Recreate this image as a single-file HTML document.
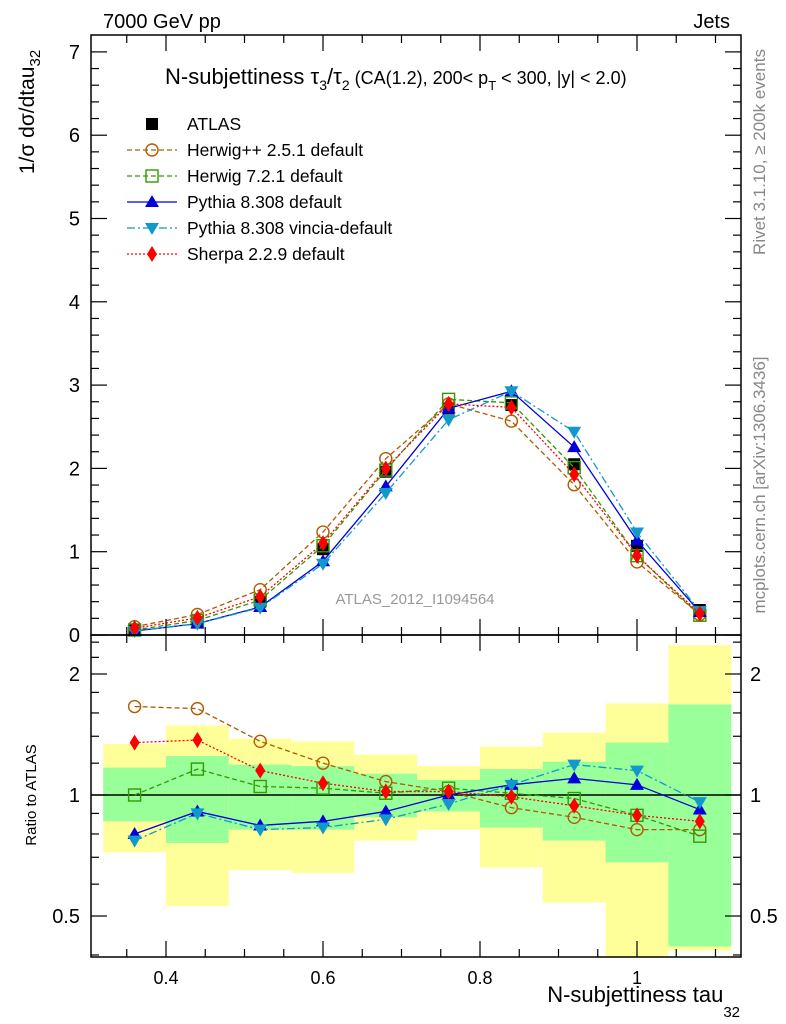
<!DOCTYPE html>
<html><head><meta charset="utf-8"><style>
html,body{margin:0;padding:0;background:#fff;}
svg{display:block;font-family:"Liberation Sans",sans-serif;}
</style></head><body>
<svg id="c" width="786" height="1024" viewBox="0 0 786 1024" xmlns="http://www.w3.org/2000/svg">
<text x="103" y="28" font-size="20">7000 GeV pp</text>
<text x="730" y="28" font-size="20" text-anchor="end">Jets</text>
<text transform="translate(34,112) rotate(-90)" font-size="21" text-anchor="middle">1/σ dσ/dtau<tspan font-size="15" dy="6">32</tspan></text>
<text transform="translate(36,795) rotate(-90)" font-size="15" text-anchor="middle">Ratio to ATLAS</text>
<text transform="translate(765,152) rotate(-90)" font-size="17" fill="#888" text-anchor="middle">Rivet 3.1.10, ≥ 200k events</text>
<text transform="translate(765,485) rotate(-90)" font-size="17" fill="#888" text-anchor="middle">mcplots.cern.ch [arXiv:1306.3436]</text>
<text x="165" y="84" font-size="22">N-subjettiness τ<tspan font-size="14" dy="6">3</tspan><tspan dy="-6">/τ</tspan><tspan font-size="14" dy="6">2</tspan><tspan font-size="18" dy="-6"> (CA(1.2), 200&lt; p</tspan><tspan font-size="13" dy="6">T</tspan><tspan font-size="18" dy="-6"> &lt; 300, |y| &lt; 2.0)</tspan></text>
<text x="415" y="604" font-size="15" fill="#999" text-anchor="middle">ATLAS_2012_I1094564</text>
<text x="740" y="1002" font-size="22" text-anchor="end">N-subjettiness tau<tspan font-size="15" dy="15">32</tspan></text>
<g id="ratio"></g><g id="main"></g><g id="axes"></g><g id="legend"></g>
</svg>
<script>
const binCenters=[0.36,0.44,0.52,0.60,0.68,0.76,0.84,0.92,1.00,1.08];
const atlas=[0.06,0.15,0.40,1.03,1.96,2.72,2.76,2.05,1.07,0.30];
const herwigppRatio=[1.66,1.64,1.36,1.20,1.08,1.02,0.93,0.88,0.82,0.82];
const herwig7Ratio=[1.00,1.16,1.05,1.04,1.01,1.04,1.01,0.98,0.89,0.79];
const pythiaRatio=[0.80,0.91,0.84,0.86,0.91,1.00,1.06,1.10,1.06,0.92];
const vinciaRatio=[0.77,0.90,0.82,0.83,0.87,0.95,1.06,1.19,1.15,0.96];
const sherpaRatio=[1.35,1.37,1.15,1.07,1.02,1.02,0.99,0.94,0.89,0.86];
const yellowHi=[1.34,1.49,1.38,1.36,1.26,1.18,1.32,1.43,1.69,2.36];
const yellowLo=[0.72,0.53,0.65,0.64,0.77,0.82,0.66,0.54,0.38,0.41];
const greenHi=[1.17,1.25,1.19,1.18,1.13,1.09,1.16,1.21,1.35,1.68];
const greenLo=[0.86,0.76,0.82,0.82,0.88,0.91,0.83,0.77,0.68,0.42];
const mainTicks=[0,1,2,3,4,5,6,7];
const xTicks=[0.4,0.6,0.8,1.0];
const xTickLabels=["0.4","0.6","0.8","1"];
const ratioTicks=[0.5,1,2];
const binWidth=0.08;

const NS="http://www.w3.org/2000/svg";
const L=91,R=741,MT=35,MB=635,RT=635,RB=957;
const X=v=>166+(v-0.4)*785;
const Y=v=>635-v*83.3;
const RY=r=>795-402*Math.log10(r);
function mk(p,t,a){const e=document.createElementNS(NS,t);for(const k in a)e.setAttribute(k,a[k]);p.appendChild(e);return e;}
const gR=document.getElementById('ratio'),gM=document.getElementById('main'),gA=document.getElementById('axes'),gL=document.getElementById('legend');
const clipRB=v=>Math.min(RB,Math.max(RT,v));
binCenters.forEach((c,i)=>{
  const x0=X(c-binWidth/2),x1=X(c+binWidth/2);
  let e=mk(gR,'rect',{x:x0,y:clipRB(RY(yellowHi[i])),width:x1-x0,height:clipRB(RY(yellowLo[i]))-clipRB(RY(yellowHi[i])),fill:'#ffff99'});
  
  
  e=mk(gR,'rect',{x:x0,y:clipRB(RY(greenHi[i])),width:x1-x0,height:clipRB(RY(greenLo[i]))-clipRB(RY(greenHi[i])),fill:'#99ff99'});
  
  
});
mk(gR,'line',{x1:L,x2:R,y1:RY(1),y2:RY(1),stroke:'#000','stroke-width':1.5});

function marker(g,type,x,y,col){
  let e;
  if(type==='sq') e=mk(g,'rect',{x:x-6,y:y-6,width:12,height:12,fill:'#000'});
  else if(type==='circ') e=mk(g,'circle',{cx:x,cy:y,r:6,fill:'none',stroke:col,'stroke-width':1.4});
  else if(type==='osq') e=mk(g,'rect',{x:x-6,y:y-6,width:12,height:12,fill:'none',stroke:col,'stroke-width':1.4});
  else if(type==='tri') e=mk(g,'polygon',{points:`${x},${y-7} ${x-7},${y+5} ${x+7},${y+5}`,fill:col});
  else if(type==='itri') e=mk(g,'polygon',{points:`${x},${y+7} ${x-7},${y-5} ${x+7},${y-5}`,fill:col});
  else if(type==='dia') e=mk(g,'polygon',{points:`${x},${y-8} ${x-5},${y} ${x},${y+8} ${x+5},${y}`,fill:col});
  return e;
}
const series=[
 {name:'herwigpp',label:'Herwig++ 2.5.1 default',r:herwigppRatio,col:'#b35900',dash:'5,3',m:'circ'},
 {name:'herwig7',label:'Herwig 7.2.1 default',r:herwig7Ratio,col:'#339900',dash:'5,3',m:'osq'},
 {name:'pythia',label:'Pythia 8.308 default',r:pythiaRatio,col:'#0000dd',dash:'',m:'tri'},
 {name:'vincia',label:'Pythia 8.308 vincia-default',r:vinciaRatio,col:'#1199cc',dash:'8,3,2,3',m:'itri'},
 {name:'sherpa',label:'Sherpa 2.2.9 default',r:sherpaRatio,col:'#ff0000',dash:'2,2',m:'dia'}
];
binCenters.forEach((c,i)=>{const e=marker(gM,'sq',X(c),Y(atlas[i]));
  
  });
series.forEach(s=>{
  const mp=binCenters.map((c,i)=>X(c)+','+Y(atlas[i]*s.r[i])).join(' ');
  let pl=mk(gM,'polyline',{points:mp,fill:'none',stroke:s.col,'stroke-width':1.3,'stroke-dasharray':s.dash});
  
  
  const rp=binCenters.map((c,i)=>X(c)+','+RY(s.r[i])).join(' ');
  pl=mk(gR,'polyline',{points:rp,fill:'none',stroke:s.col,'stroke-width':1.3,'stroke-dasharray':s.dash});
  
  
  binCenters.forEach((c,i)=>{
    let e=marker(gM,s.m,X(c),Y(atlas[i]*s.r[i]),s.col);
    
    
    e=marker(gR,s.m,X(c),RY(s.r[i]),s.col);
    
    
  });
});
let f=mk(gA,'rect',{x:L,y:MT,width:R-L,height:MB-MT,fill:'none',stroke:'#000','stroke-width':1.5});


f=mk(gA,'rect',{x:L,y:RT,width:R-L,height:RB-RT,fill:'none',stroke:'#000','stroke-width':1.5});


const tk=(x1,y1,x2,y2)=>mk(gA,'line',{x1,y1,x2,y2,stroke:'#000','stroke-width':1.2});
for(let v=0.30;v<=1.13;v+=0.05){const x=X(v);if(x<L||x>R)continue;
  const maj=Math.abs(Math.round(v*5)-v*5)<1e-6;const len=maj?16:8;
  tk(x,MT,x,MT+len);tk(x,MB,x,MB-len);tk(x,RT,x,RT+len);tk(x,RB,x,RB-len);}
xTicks.forEach((v,i)=>{const t=mk(gA,'text',{x:X(v),y:984,'font-size':18,'text-anchor':'middle'});t.textContent=xTickLabels[i];
  
  });
for(let v=0;v<=7.2;v+=0.2){const y=Y(v);const maj=Math.abs(Math.round(v)-v)<1e-6;const len=maj?16:8;tk(L,y,L+len,y);tk(R,y,R-len,y);}
mainTicks.forEach(v=>{const t=mk(gA,'text',{x:80,y:Y(v)+7,'font-size':20,'text-anchor':'end'});t.textContent=v;
  
  });
[0.4,0.6,0.7,0.8,0.9,1.2,1.4,1.6,1.8,2.2,2.4].forEach(v=>{const y=RY(v);tk(L,y,L+8,y);tk(R,y,R-8,y);});
ratioTicks.forEach(v=>{const y=RY(v);tk(L,y,L+16,y);tk(R,y,R-16,y);
  let t=mk(gA,'text',{x:80,y:y+7,'font-size':20,'text-anchor':'end'});t.textContent=v;
  
  
  t=mk(gA,'text',{x:750,y:y+7,'font-size':20});t.textContent=v;
  
  });
const ly0=124,ldy=26;
let a=marker(gL,'sq',152,ly0);


let at=mk(gL,'text',{x:187,y:ly0+6,'font-size':17.5});at.textContent='ATLAS';


series.forEach((s,i)=>{const y=ly0+ldy*(i+1);
  mk(gL,'line',{x1:127,x2:177,y1:y,y2:y,stroke:s.col,'stroke-width':1.3,'stroke-dasharray':s.dash});
  marker(gL,s.m,152,y,s.col);
  const t=mk(gL,'text',{x:187,y:y+6,'font-size':17.5});t.textContent=s.label;
  
  });
</script>
</body></html>
